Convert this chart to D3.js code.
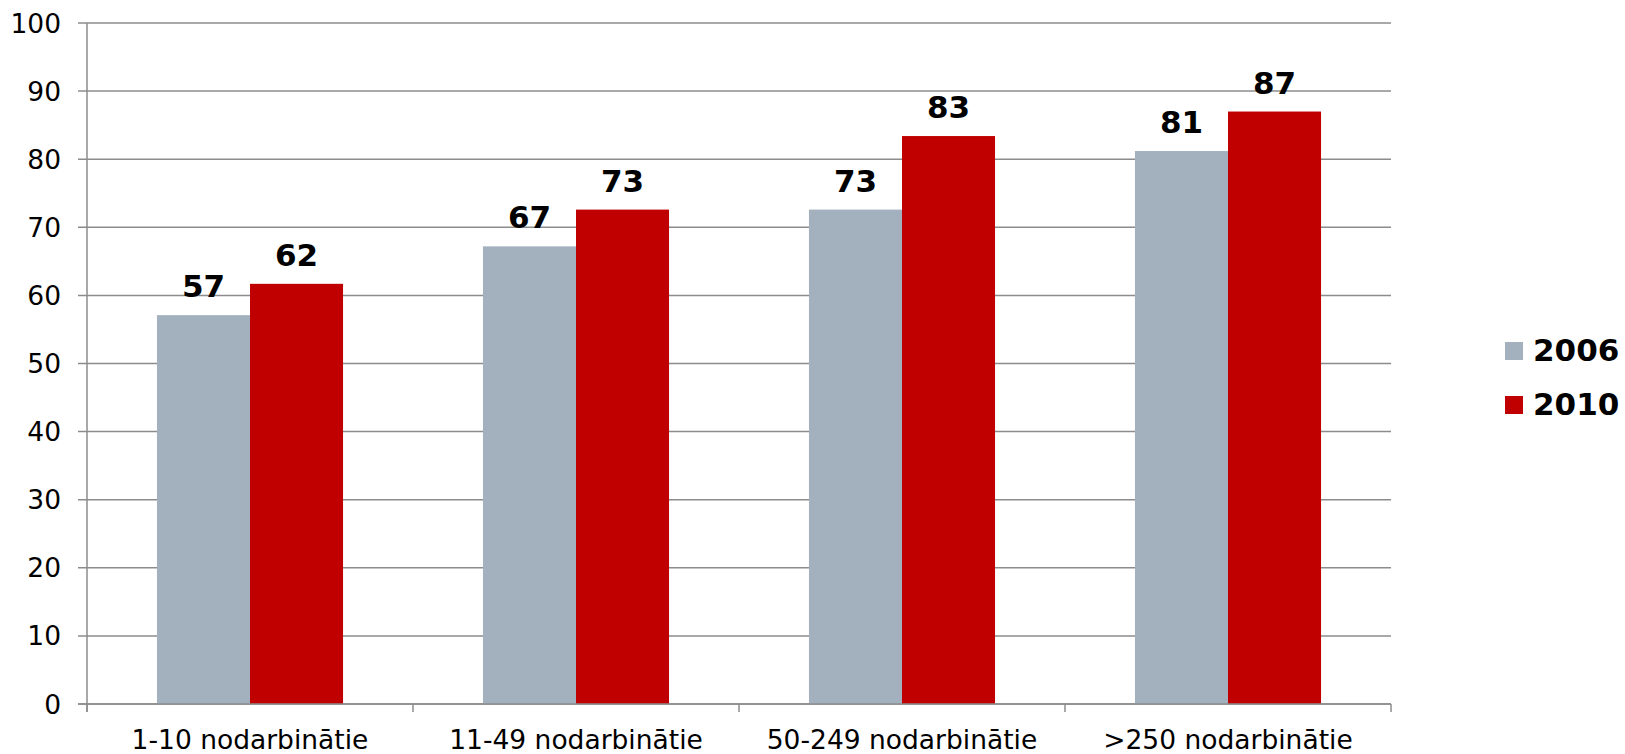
<!DOCTYPE html>
<html>
<head>
<meta charset="utf-8">
<script src="https://cdn.jsdelivr.net/npm/d3@7"></script>
<style>
  body { margin: 0; background: #fff; }
  text { font-family: "DejaVu Sans", Verdana, sans-serif; }
</style>
</head>
<body>
<svg width="1625" height="754"></svg>
<script>
const categories = ['1-10 nodarbinātie', '11-49 nodarbinātie', '50-249 nodarbinātie', '>250 nodarbinātie']
const seriesNames = ['2006', '2010']
const values2006 = [57.1, 67.2, 72.6, 81.2]
const values2010 = [61.7, 72.6, 83.4, 87.0]
const yTicks = [0, 10, 20, 30, 40, 50, 60, 70, 80, 90, 100]
const colors = ['#a3b1bf', '#c00000']

const svg = d3.select('svg')
const plotLeft = 87, plotRight = 1391, plotTop = 23, plotBottom = 704

const x = d3.scaleBand().domain(categories).range([plotLeft, plotRight]).paddingInner(0).paddingOuter(0)
const x1 = d3.scaleBand().domain(seriesNames).range([0, x.bandwidth()]).paddingInner(0).paddingOuter(0.752)
const y = d3.scaleLinear().domain([0, 100]).range([plotBottom, plotTop])

const axisColor = '#8c8c8c'

// gridlines
svg.append('g')
  .selectAll('line')
  .data(yTicks)
  .join('line')
    .attr('x1', plotLeft - 9)
    .attr('x2', plotRight)
    .attr('y1', d => y(d))
    .attr('y2', d => y(d))
    .attr('stroke', axisColor)
    .attr('stroke-width', 1.5)

// y axis
svg.append('line')
  .attr('x1', plotLeft).attr('x2', plotLeft)
  .attr('y1', plotTop).attr('y2', plotBottom + 8)
  .attr('stroke', axisColor).attr('stroke-width', 1.5)

svg.append('g')
  .selectAll('text')
  .data(yTicks)
  .join('text')
    .attr('x', plotLeft - 26)
    .attr('y', d => y(d))
    .attr('dy', '0.36em')
    .attr('text-anchor', 'end')
    .attr('font-size', 26.5)
    .attr('fill', '#000')
    .text(d => d)

// x axis ticks at category boundaries
const bounds = categories.map(c => x(c)).concat([plotRight])
svg.append('g')
  .selectAll('line')
  .data(bounds)
  .join('line')
    .attr('x1', d => d).attr('x2', d => d)
    .attr('y1', plotBottom).attr('y2', plotBottom + 8)
    .attr('stroke', axisColor).attr('stroke-width', 1.5)

svg.append('g')
  .selectAll('text')
  .data(categories)
  .join('text')
    .attr('x', d => x(d) + x.bandwidth() / 2)
    .attr('y', 749)
    .attr('text-anchor', 'middle')
    .attr('font-size', 26.5)
    .attr('fill', '#000')
    .text(d => d)

// bars
const series = [values2006, values2010]
const gBars = svg.append('g')
series.forEach((vals, si) => {
  const g = gBars.append('g')
  g.selectAll('rect')
    .data(vals)
    .join('rect')
      .attr('x', (d, i) => x(categories[i]) + x1(seriesNames[si]))
      .attr('width', x1.bandwidth())
      .attr('y', d => y(d))
      .attr('height', d => y(0) - y(d))
      .attr('fill', colors[si])
  g.selectAll('text')
    .data(vals)
    .join('text')
      .attr('x', (d, i) => x(categories[i]) + x1(seriesNames[si]) + x1.bandwidth() / 2)
      .attr('y', d => y(d) - 18)
      .attr('text-anchor', 'middle')
      .attr('font-size', 31)
      .attr('font-weight', 'bold')
      .attr('fill', '#000')
      .text(d => d3.format('.0f')(d))
})

// x axis line on top of bars
svg.append('line')
  .attr('x1', plotLeft - 9).attr('x2', plotRight)
  .attr('y1', plotBottom).attr('y2', plotBottom)
  .attr('stroke', axisColor).attr('stroke-width', 1.5)

// legend
const legend = svg.append('g')
  .selectAll('g')
  .data(seriesNames)
  .join('g')
    .attr('transform', (d, i) => `translate(1505, ${342 + i * 54})`)
legend.append('rect')
  .attr('width', 18).attr('height', 18)
  .attr('fill', (d, i) => colors[i])
legend.append('text')
  .attr('x', 28)
  .attr('y', 19)
  .attr('font-size', 31)
  .attr('font-weight', 'bold')
  .attr('fill', '#000')
  .text(d => d)
</script>
</body>
</html>
